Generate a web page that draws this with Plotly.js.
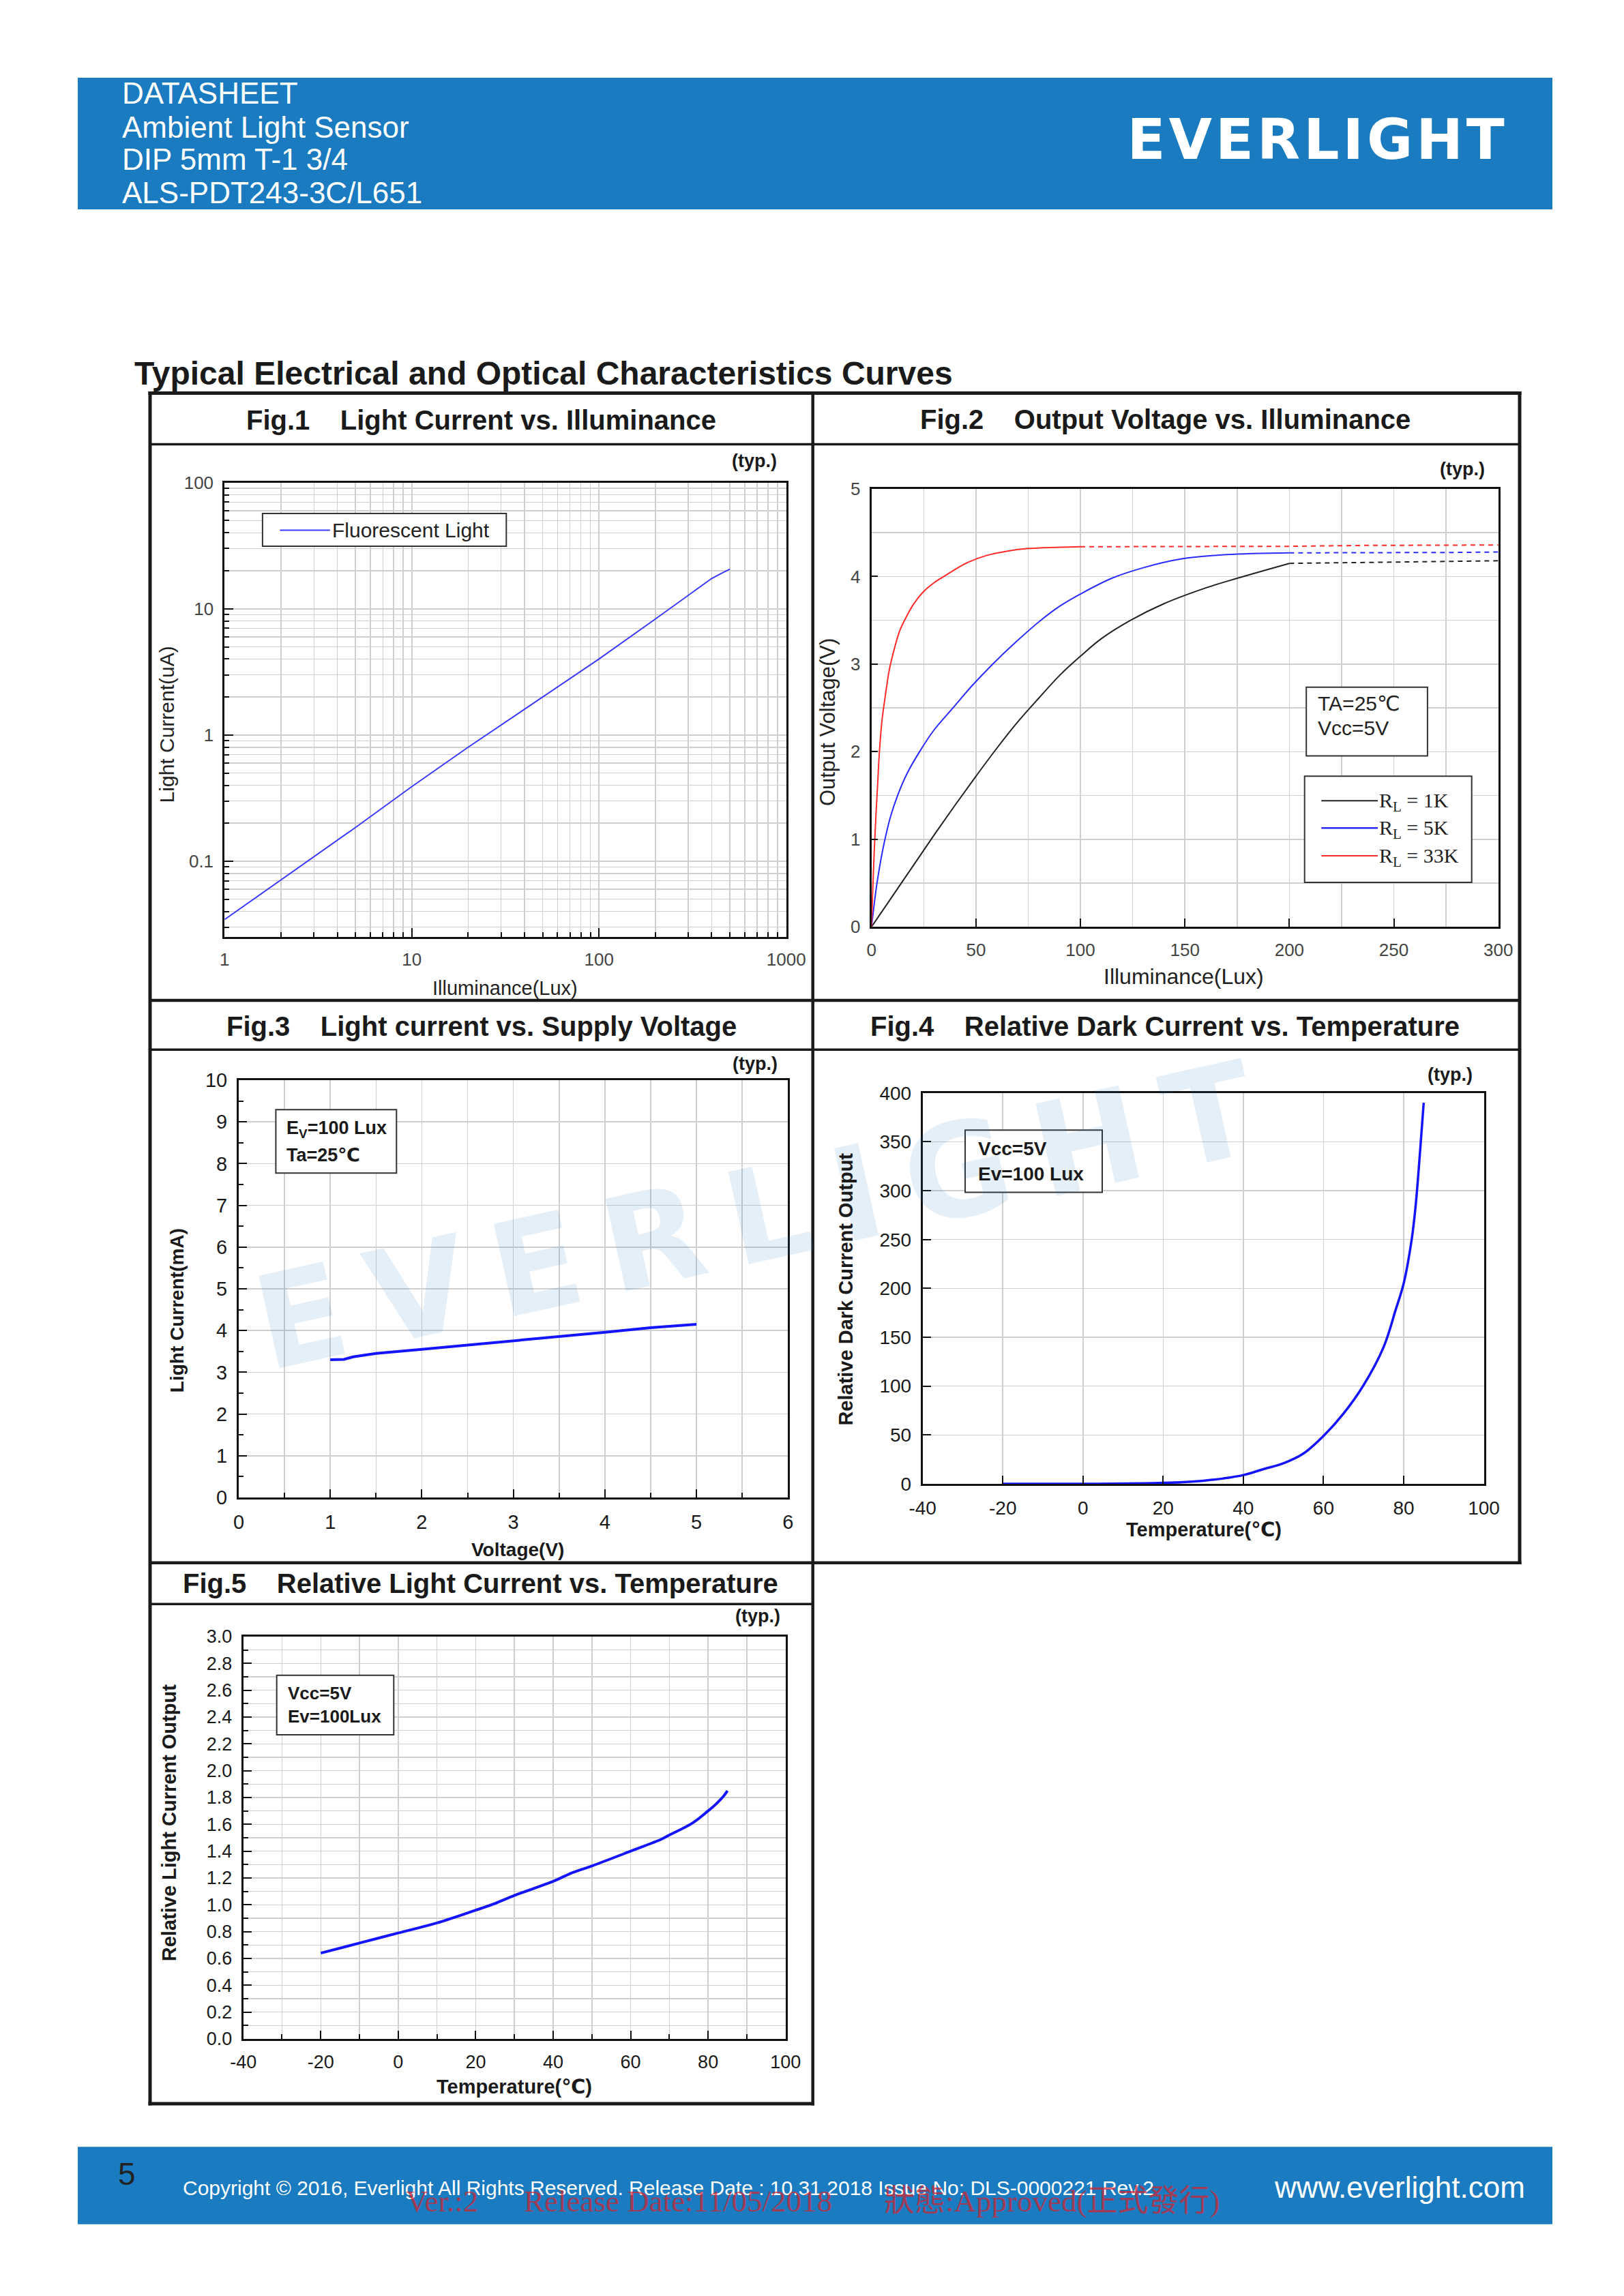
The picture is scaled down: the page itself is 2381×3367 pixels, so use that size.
<!DOCTYPE html>
<html>
<head>
<meta charset="utf-8">
<script src="https://cdn.plot.ly/plotly-3.0.1.min.js"></script>
<style>
html,body{margin:0;padding:0;background:#fff;}
#chart{width:2381px;height:3367px;}
g.annotation[data-index="0"] text{letter-spacing:38px;}
g.annotation[data-index="1"] text{letter-spacing:5px;}
</style>
</head>
<body>
<div id="chart"></div>
<script>
// ---------------- DATA ----------------
// Fig.1 Light Current vs. Illuminance (log-log)
const fig1Lux     = [1, 2, 5, 10, 20, 50, 100, 200, 300, 400, 450, 500];
const fig1Current = [0.0345, 0.071, 0.185, 0.39, 0.80, 2.0, 4.0, 8.3, 12.8, 17.4, 19.1, 20.6];
const fig1XTicks = [1, 10, 100, 1000];
const fig1XTickText = ['1', '10', '100', '1000'];
const fig1YTicks = [0.1, 1, 10, 100];
const fig1YTickText = ['0.1', '1', '10', '100'];

// Fig.2 Output Voltage vs. Illuminance
const fig2Lux1K = [0, 10, 20, 30, 40, 50, 60, 70, 80, 90, 100, 110, 124, 140, 160, 175, 200];
const fig2V1K   = [0, 0.35, 0.70, 1.05, 1.39, 1.72, 2.04, 2.34, 2.61, 2.87, 3.09, 3.29, 3.50, 3.69, 3.87, 3.98, 4.15];
const fig2Lux1KExt = [200, 235, 270, 300];
const fig2V1KExt   = [4.15, 4.16, 4.175, 4.18];
const fig2Lux5K = [0, 1, 2.4, 4, 6, 9, 12.5, 17, 23, 30, 39, 48, 58, 69, 81, 90, 100, 115, 130, 148, 170, 200];
const fig2V5K   = [0, 0.2, 0.46, 0.7, 0.95, 1.25, 1.5, 1.75, 2.0, 2.25, 2.5, 2.75, 3.0, 3.25, 3.5, 3.66, 3.8, 3.98, 4.1, 4.2, 4.25, 4.27];
const fig2Lux5KExt = [200, 250, 280, 300];
const fig2V5KExt   = [4.27, 4.27, 4.275, 4.28];
const fig2Lux33K = [0, 0.5, 1.3, 2.2, 3, 3.8, 5, 6.7, 8.5, 11, 13.5, 16.7, 20, 25, 30, 34.6, 40, 46, 55, 65, 75, 85, 100];
const fig2V33K   = [0, 0.35, 0.85, 1.3, 1.65, 2.0, 2.35, 2.65, 2.93, 3.18, 3.38, 3.54, 3.68, 3.83, 3.93, 4.0, 4.08, 4.16, 4.24, 4.29, 4.32, 4.33, 4.34];
const fig2Lux33KExt = [100, 200, 235, 300];
const fig2V33KExt   = [4.34, 4.345, 4.355, 4.36];

// Fig.3 Light current vs. Supply Voltage
const fig3Voltage = [1, 1.15, 1.25, 1.5, 2, 2.5, 3, 3.5, 4, 4.5, 5];
const fig3Current = [3.30, 3.31, 3.37, 3.45, 3.55, 3.65, 3.75, 3.86, 3.96, 4.07, 4.15];

// Fig.4 Relative Dark Current vs. Temperature
const fig4Temp = [-20, 0, 15, 20, 25, 30, 35, 40, 45, 50, 55, 60, 65, 70, 75, 78, 80, 82, 83, 84, 85];
const fig4Dark = [0, 0, 0.5, 1, 1.8, 3.2, 5.5, 9, 15, 21, 31, 49, 72, 101, 140, 178, 205, 250, 285, 335, 390];

// Fig.5 Relative Light Current vs. Temperature
const fig5Temp = [-20, -10, 0, 10, 20, 25, 30, 40, 45, 50, 60, 68, 70, 76, 80, 82, 84, 85];
const fig5Rel  = [0.64, 0.715, 0.79, 0.865, 0.96, 1.01, 1.07, 1.175, 1.24, 1.29, 1.40, 1.49, 1.52, 1.61, 1.70, 1.75, 1.81, 1.85];

// Temperature axis tick labels (Fig.4, Fig.5)
const tempTicks = [-40, -20, 0, 20, 40, 60, 80, 100];
const tempTickText = ['-40', '-20', '0', '20', '40', '60', '80', '100'];

// ---------------- LAYOUT HELPERS ----------------
const W = 2381, H = 3367;
const px = x => x / W;
const py = y => 1 - y / H;
const dX = (l, r) => [px(l), px(r)];
const dY = (t, b) => [py(b), py(t)];

const SANS = 'Liberation Sans, Arial, DejaVu Sans, Noto Sans CJK SC, sans-serif';
const NARROW = 'Liberation Sans Narrow, Arial Narrow, Liberation Sans, Arial, sans-serif';
const SERIF = 'Liberation Serif, Times New Roman, Noto Sans CJK TC, serif';
const LOGO = 'DejaVu Sans, Liberation Sans, sans-serif';
const GRID = '#cfcfcf';
const BLUE = '#1414ff';

function logMinor(a, b) {
  const v = [];
  for (let d = a; d < b; d++) for (let k = 2; k <= 9; k++) v.push(k * Math.pow(10, d));
  return v;
}

function baseAxis(extra) {
  return Object.assign({
    showline: true, linecolor: '#111', linewidth: 3, mirror: true,
    ticks: 'inside', tickcolor: '#111', tickwidth: 2, ticklen: 12,
    showgrid: true, gridcolor: GRID, gridwidth: 1.5, zeroline: false,
    ticklabelstandoff: 8, fixedrange: true
  }, extra);
}

function txt(x, y, text, size, o) {
  o = o || {};
  return {
    xref: 'paper', yref: 'paper', x: px(x), y: py(y), text: text, showarrow: false,
    xanchor: o.xa || 'center', yanchor: o.ya || 'middle', textangle: o.angle || 0,
    font: {size: size, family: o.family || SANS, color: o.color || '#1a1a1a'}
  };
}

function hline(y, x0, x1, w) {
  return {type: 'line', xref: 'paper', yref: 'paper', x0: px(x0), x1: px(x1), y0: py(y), y1: py(y),
          line: {color: '#1a1a1a', width: w}};
}
function vline(x, y0, y1, w) {
  return {type: 'line', xref: 'paper', yref: 'paper', x0: px(x), x1: px(x), y0: py(y0), y1: py(y1),
          line: {color: '#1a1a1a', width: w}};
}
function rect(x0, y0, x1, y1, fill, lc, lw) {
  return {type: 'rect', xref: 'paper', yref: 'paper', x0: px(x0), x1: px(x1), y0: py(y1), y1: py(y0),
          fillcolor: fill, line: {color: lc || fill, width: lw === undefined ? 0 : lw}, layer: 'above'};
}
function seg(x0, y0, x1, y1, color, w) {
  return {type: 'line', xref: 'paper', yref: 'paper', x0: px(x0), x1: px(x1), y0: py(y0), y1: py(y1),
          line: {color: color, width: w}, layer: 'above'};
}

// ---------------- TRACES ----------------
const traces = [
  {x: fig1Lux, y: fig1Current, xaxis: 'x', yaxis: 'y', mode: 'lines', line: {color: '#3a3aff', width: 2}},

  {x: fig2Lux1K, y: fig2V1K, xaxis: 'x2', yaxis: 'y2', mode: 'lines', line: {color: '#222', width: 2, shape: 'spline'}},
  {x: fig2Lux1KExt, y: fig2V1KExt, xaxis: 'x2', yaxis: 'y2', mode: 'lines', line: {color: '#222', width: 2, dash: '7px,6px'}},
  {x: fig2Lux5K, y: fig2V5K, xaxis: 'x2', yaxis: 'y2', mode: 'lines', line: {color: '#2b2bff', width: 2, shape: 'spline'}},
  {x: fig2Lux5KExt, y: fig2V5KExt, xaxis: 'x2', yaxis: 'y2', mode: 'lines', line: {color: '#2b2bff', width: 2, dash: '7px,6px'}},
  {x: fig2Lux33K, y: fig2V33K, xaxis: 'x2', yaxis: 'y2', mode: 'lines', line: {color: '#ff2a2a', width: 2, shape: 'spline'}},
  {x: fig2Lux33KExt, y: fig2V33KExt, xaxis: 'x2', yaxis: 'y2', mode: 'lines', line: {color: '#ff2a2a', width: 2, dash: '7px,6px'}},

  {x: fig3Voltage, y: fig3Current, xaxis: 'x3', yaxis: 'y3', mode: 'lines', line: {color: BLUE, width: 4}},
  {x: fig4Temp, y: fig4Dark, xaxis: 'x4', yaxis: 'y4', mode: 'lines', line: {color: BLUE, width: 3.5, shape: 'spline'}},
  {x: fig5Temp, y: fig5Rel, xaxis: 'x5', yaxis: 'y5', mode: 'lines', line: {color: BLUE, width: 4, shape: 'spline'}}
];

const tf1 = {family: NARROW, size: 26, color: '#444'};
const tfB = {family: SANS, size: 28, color: '#1a1a1a'};

const layout = {
  width: W, height: H, margin: {l: 0, r: 0, t: 0, b: 0},
  paper_bgcolor: '#fff', plot_bgcolor: 'rgba(0,0,0,0)', showlegend: false,
  font: {family: SANS, color: '#1a1a1a'},

  // Fig.1
  xaxis: baseAxis({anchor: 'y', domain: dX(329.3, 1152.7), type: 'log', range: [0, 3],
    tickmode: 'array', tickvals: fig1XTicks, ticktext: fig1XTickText, ticklen: 13, tickfont: tf1,
    minor: {tickmode: 'array', tickvals: logMinor(0, 3), ticks: 'inside', ticklen: 7, tickwidth: 2, tickcolor: '#111',
            showgrid: true, gridcolor: GRID, gridwidth: 1.5}}),
  yaxis: baseAxis({anchor: 'x', domain: dY(707.7, 1374), type: 'log', range: [-1.6, 2],
    tickmode: 'array', tickvals: fig1YTicks, ticktext: fig1YTickText, ticklen: 13, tickfont: tf1,
    minor: {tickmode: 'array', tickvals: logMinor(-2, 2), ticks: 'inside', ticklen: 7, tickwidth: 2, tickcolor: '#111',
            showgrid: true, gridcolor: GRID, gridwidth: 1.5}}),

  // Fig.2
  xaxis2: baseAxis({anchor: 'y2', domain: dX(1277.7, 2196.7), range: [0, 300], dtick: 50, tick0: 0, tickfont: tf1,
    minor: {dtick: 25, showgrid: true, gridcolor: GRID, gridwidth: 1.5, ticks: ''}}),
  yaxis2: baseAxis({anchor: 'x2', domain: dY(717, 1359.3), range: [0, 5], dtick: 1, tick0: 0, ticklen: 9, tickfont: tf1,
    minor: {dtick: 0.5, showgrid: true, gridcolor: GRID, gridwidth: 1.5, ticks: ''}}),

  // Fig.3
  xaxis3: baseAxis({anchor: 'y3', domain: dX(350, 1155.3), range: [0, 6], dtick: 1, tick0: 0,
    tickfont: {family: SANS, size: 29, color: '#1a1a1a'},
    minor: {dtick: 0.5, showgrid: true, gridcolor: GRID, gridwidth: 1.5, ticks: 'inside', ticklen: 7, tickwidth: 2, tickcolor: '#111'}}),
  yaxis3: baseAxis({anchor: 'x3', domain: dY(1584, 2196), range: [0, 10], dtick: 1, tick0: 0,
    tickfont: {family: SANS, size: 29, color: '#1a1a1a'},
    minor: {dtick: 0.5, showgrid: false, ticks: 'inside', ticklen: 7, tickwidth: 2, tickcolor: '#111'}}),

  // Fig.4
  xaxis4: baseAxis({anchor: 'y4', domain: dX(1352.7, 2175.5), range: [-40, 100],
    tickmode: 'array', tickvals: tempTicks, ticktext: tempTickText, tickfont: tfB}),
  yaxis4: baseAxis({anchor: 'x4', domain: dY(1602.7, 2176), range: [0, 400], dtick: 50, tick0: 0, tickfont: tfB}),

  // Fig.5
  xaxis5: baseAxis({anchor: 'y5', domain: dX(356.7, 1151.7), range: [-40, 100],
    tickmode: 'array', tickvals: tempTicks, ticktext: tempTickText,
    tickfont: {family: SANS, size: 27, color: '#1a1a1a'},
    minor: {dtick: 10, tick0: -40, showgrid: true, gridcolor: GRID, gridwidth: 1.5, ticks: 'inside', ticklen: 7, tickwidth: 2, tickcolor: '#111'}}),
  yaxis5: baseAxis({anchor: 'x5', domain: dY(2400, 2990), range: [0, 3], dtick: 0.2, tick0: 0, tickformat: '.1f',
    tickfont: {family: SANS, size: 27, color: '#1a1a1a'},
    minor: {dtick: 0.1, showgrid: true, gridcolor: GRID, gridwidth: 1.5, ticks: 'inside', ticklen: 7, tickwidth: 2, tickcolor: '#111'}}),

  shapes: [
    // header / footer bands
    rect(114, 114, 2276, 307, '#1b7bc0'),
    rect(114, 3148.3, 2276, 3261.7, '#1b7bc0'),
    // table frame
    hline(576.5, 217.5, 2230.5, 5),
    vline(220, 574, 3087.5, 5),
    vline(2228, 574, 2294, 5),
    vline(1191.7, 576.5, 3087.5, 4.5),
    hline(651.5, 220, 2228, 3.5),
    hline(1467, 220, 2228, 4.5),
    hline(1539.3, 220, 2228, 3.5),
    hline(2291.7, 220, 2230.5, 4.5),
    hline(2352.3, 220, 1191.7, 3.5),
    hline(3085, 217.5, 1194, 5),
    // Fig.1 legend box
    rect(384.9, 753, 742.3, 800.9, '#fff', '#333', 2),
    seg(410.4, 777.6, 483.8, 777.6, '#3a3aff', 2),
    // Fig.2 info and legend boxes
    rect(1915.2, 1007.7, 2092.9, 1108.6, '#fff', '#333', 2),
    rect(1912.7, 1138.3, 2157.7, 1294, '#fff', '#333', 2),
    seg(1937.3, 1174.3, 2020, 1174.3, '#222', 2),
    seg(1937.3, 1214.3, 2020, 1214.3, '#2b2bff', 2.5),
    seg(1937.3, 1255, 2020, 1255, '#ff2a2a', 2),
    // Fig.3 / Fig.4 / Fig.5 boxes
    rect(404.4, 1627.3, 581.3, 1720.2, '#fff', '#333', 2),
    rect(1415, 1657.3, 1616, 1748.5, '#fff', '#333', 2),
    rect(405.7, 2456.7, 577.3, 2544, '#fff', '#333', 2)
  ],

  annotations: [
    // 0: watermark, 1: logo (letter spacing via CSS)
    txt(1125, 1780, '<b>EVERLIGHT</b>', 190, {family: LOGO, color: 'rgba(30,120,200,0.12)', angle: -12.5}),
    txt(1932, 205, '<b>EVERLIGHT</b>', 82, {family: LOGO, color: '#ffffff'}),
    // header text
    txt(177, 137, 'DATASHEET', 44, {xa: 'left', color: '#fff'}),
    txt(177, 186, 'Ambient Light Sensor', 44, {xa: 'left', color: '#fff'}),
    txt(177, 234, 'DIP 5mm T-1 3/4', 44, {xa: 'left', color: '#fff'}),
    txt(177, 282.5, 'ALS-PDT243-3C/L651', 44, {xa: 'left', color: '#fff'}),
    // section title
    txt(195, 547, '<b>Typical Electrical and Optical Characteristics Curves</b>', 48, {xa: 'left'}),
    // figure titles
    txt(705.3, 615.7, '<b>Fig.1\u00a0\u00a0\u00a0\u00a0Light Current vs. Illuminance</b>', 40),
    txt(1708.2, 614.9, '<b>Fig.2\u00a0\u00a0\u00a0\u00a0Output Voltage vs. Illuminance</b>', 40),
    txt(705.5, 1504.5, '<b>Fig.3\u00a0\u00a0\u00a0\u00a0Light current vs. Supply Voltage</b>', 40),
    txt(1708.3, 1504.5, '<b>Fig.4\u00a0\u00a0\u00a0\u00a0Relative Dark Current vs. Temperature</b>', 40),
    txt(704.3, 2321.5, '<b>Fig.5\u00a0\u00a0\u00a0\u00a0Relative Light Current vs. Temperature</b>', 40),
    // (typ.)
    txt(1106.1, 676.4, '<b>(typ.)</b>', 27),
    txt(2144.1, 687.7, '<b>(typ.)</b>', 27),
    txt(1106.8, 1559.7, '<b>(typ.)</b>', 27),
    txt(2125.5, 1576.2, '<b>(typ.)</b>', 27),
    txt(1111.3, 2370.2, '<b>(typ.)</b>', 27),
    // Fig.1 axis titles + legend
    txt(244.5, 1062.9, 'Light Current(uA)', 30, {angle: -90, color: '#222'}),
    txt(740.4, 1449.4, 'Illuminance(Lux)', 29, {color: '#222'}),
    txt(485.1, 777.6, 'Fluorescent Light', 30, {xa: 'left', color: '#222'}),
    // Fig.2 axis titles + boxes
    txt(1212.8, 1059.3, 'Output Voltage(V)', 31, {angle: -90, color: '#222'}),
    txt(1735.5, 1432.1, 'Illuminance(Lux)', 32, {color: '#222'}),
    txt(1930.2, 1031.8, 'TA=25\u2103', 30, {xa: 'left', color: '#222'}),
    txt(1930.2, 1067.9, 'Vcc=5V', 30, {xa: 'left', color: '#222'}),
    txt(2020, 1176, 'R<sub>L</sub> = 1K', 30, {xa: 'left', family: SERIF, color: '#222'}),
    txt(2020, 1216, 'R<sub>L</sub> = 5K', 30, {xa: 'left', family: SERIF, color: '#222'}),
    txt(2020, 1257, 'R<sub>L</sub> = 33K', 30, {xa: 'left', family: SERIF, color: '#222'}),
    // Fig.3
    txt(260.3, 1921.9, '<b>Light Current(mA)</b>', 28, {angle: -90}),
    txt(759.4, 2272.1, '<b>Voltage(V)</b>', 28),
    txt(418.3, 1656, '<b>E<sub>V</sub>=100 Lux</b>', 27, {xa: 'left'}),
    txt(418.3, 1693.8, '<b>Ta=25\u2103</b>', 27, {xa: 'left'}),
    // Fig.4
    txt(1240, 1890.6, '<b>Relative Dark Current Output</b>', 29, {angle: -90}),
    txt(1764.5, 2243.2, '<b>Temperature(\u2103)</b>', 29),
    txt(1432, 1684.9, '<b>Vcc=5V</b>', 28, {xa: 'left'}),
    txt(1432, 1721, '<b>Ev=100 Lux</b>', 28, {xa: 'left'}),
    // Fig.5
    txt(248.2, 2673, '<b>Relative Light Current Output</b>', 29, {angle: -90}),
    txt(754.1, 3059.9, '<b>Temperature(\u2103)</b>', 29),
    txt(420, 2482.5, '<b>Vcc=5V</b>', 26, {xa: 'left'}),
    txt(420, 2517.2, '<b>Ev=100Lux</b>', 26, {xa: 'left'}),
    // footer
    txt(186, 3188, '5', 46, {color: '#222'}),
    txt(265.6, 3208.5, 'Copyright \u00a9 2016, Everlight All Rights Reserved. Release Date : 10.31.2018 Issue No: DLS-0000221 Rev.2', 30, {xa: 'left', color: '#fff'}),
    txt(2238, 3207, 'www.everlight.com', 44, {xa: 'right', color: '#fff'}),
    txt(593, 3228, 'Ver.:2', 45, {xa: 'left', family: SERIF, color: 'rgba(220,30,40,0.7)'}),
    txt(766, 3228, 'Release Date:11/05/2018', 45, {xa: 'left', family: SERIF, color: 'rgba(220,30,40,0.7)'}),
    txt(1294, 3228, '\u72c0\u614b:Approved(\u6b63\u5f0f\u767c\u884c)', 45, {xa: 'left', family: SERIF, color: 'rgba(220,30,40,0.7)'})
  ]
};

Plotly.newPlot('chart', traces, layout, {staticPlot: true, displayModeBar: false});
</script>
</body>
</html>
